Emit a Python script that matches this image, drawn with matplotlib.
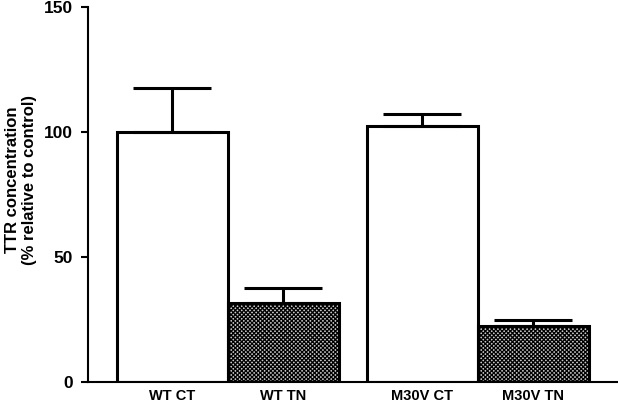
import matplotlib
matplotlib.use("Agg")
import matplotlib.pyplot as plt
import numpy as np

plt.rcParams['font.family'] = ['Liberation Sans', 'DejaVu Sans']
plt.rcParams['hatch.linewidth'] = 0.9

# data
labels = ['WT CT', 'WT TN', 'M30V CT', 'M30V TN']
values = [100, 31.7, 102.5, 22.4]
errors = [17.5, 5.8, 4.5, 2.4]
positions = [0, 1, 2.25, 3.25]
shaded = [False, True, False, True]

fig = plt.figure(figsize=(6.18, 4.04), dpi=100)
ax = fig.add_axes([88 / 618, 1 - 382 / 404, (617 - 88) / 618, (382 - 7) / 404])

for x, v, e, s in zip(positions, values, errors, shaded):
    ax.bar(x, v, width=1.0, facecolor='#c8c8c8' if s else 'white', edgecolor='black',
           linewidth=2.2, hatch='xxxxxxxx' if s else None, zorder=2)
    ax.errorbar(x, v, yerr=[[0], [e]], color='black', elinewidth=2.2,
                capsize=28, capthick=2.2, zorder=3)

ax.set_xlim(-0.761, 4.005)
ax.set_ylim(0, 150)
ax.set_yticks([0, 50, 100, 150])
ax.set_xticks(positions)
ax.set_xticklabels(labels, fontsize=10.5, fontweight='bold')
ax.tick_params(axis='x', length=0, pad=5)
ax.tick_params(axis='y', length=5, width=1.5, labelsize=12.5, pad=6)
for lbl in ax.get_yticklabels():
    lbl.set_fontweight('bold')

ax.spines['top'].set_visible(False)
ax.spines['right'].set_visible(False)
ax.spines['left'].set_linewidth(1.5)
ax.spines['bottom'].set_linewidth(1.5)

fig.text(21 / 618, 1 - 180 / 404, 'TTR concentration\n(% relative to control)',
         rotation=90, ha='center', va='center', fontsize=12, fontweight='bold',
         linespacing=1.1)

fig.savefig('out.png', dpi=100)
